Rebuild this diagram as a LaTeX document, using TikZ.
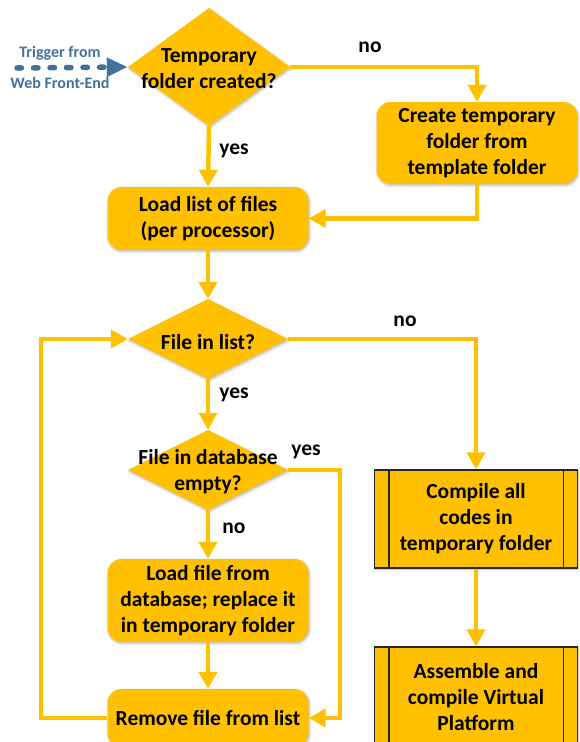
\documentclass[tikz,border=0pt]{standalone}
\usepackage{fontspec}
\setmainfont{Carlito}
\usetikzlibrary{arrows.meta,shapes.geometric,shadows.blur}
\definecolor{gold}  {HTML}{FFC000}
\definecolor{steel} {HTML}{41719C}
\newcommand{\boxfont}{\fontsize{21.5}{26}\selectfont\bfseries}
\newcommand{\trigfont}{\fontsize{16}{18}\selectfont\bfseries}

\begin{document}
\begin{tikzpicture}[x=1pt,y=-1pt,
  softshadow/.style={blur shadow={shadow xshift=1pt,shadow yshift=-1.5pt,shadow blur radius=2.5pt,shadow opacity=30}},
  box/.style={rectangle,rounded corners=14pt,fill=gold,minimum width=201pt,inner sep=0pt,align=center,font=\boxfont,softshadow},
  proc/.style={rectangle,fill=gold,draw=black!85,line width=1.2pt,minimum width=203pt,inner sep=0pt,align=center,font=\boxfont,softshadow},
  dec/.style={diamond,fill=gold,inner sep=0pt,softshadow},
  dectext/.style={align=center,font=\boxfont,inner sep=0pt},
  lbl/.style={font=\boxfont,inner sep=0pt},
  flow/.style={gold,line width=4.5pt,-{Triangle[width=18pt,length=17pt]}},
  trig/.style={steel,line width=5.5pt,dash pattern=on 4.5pt off 12pt,line cap=round,-{Triangle[width=18pt,length=21pt,line cap=butt]}}]
\useasboundingbox (0,0) rectangle (579,742);
\clip (0,0) rectangle (579,742);

% decisions
\node[dec,minimum width=162pt,minimum height=118pt] (dec1) at (209,67) {};
\node[dectext] (dec1t) at (209,69) {Temporary\\folder created?};
\node[dec,minimum width=160pt,minimum height=80pt] (dec2) at (208,339) {};
\node[dectext] (dec2t) at (208,342) {File in list?};
\node[dec,minimum width=160pt,minimum height=80pt] (dec3) at (208,470) {};
\node[dectext] (dec3t) at (208,472) {File in database\\empty?};

% process boxes
\node[box,minimum height=82pt] (create) at (477,143) {Create temporary\\folder from\\template folder};
\node[box,minimum height=63pt] (loadlist) at (208,218.5) {Load list of files\\(per processor)};
\node[box,minimum height=83pt] (loadfile) at (208,600.5) {Load file from\\database; replace it\\in temporary folder};
\node[box,minimum height=58pt] (remove) at (208,718) {Remove file from list};

% predefined processes
\node[proc,minimum height=98pt] (compile) at (476,519) {Compile all\\codes in\\temporary folder};
\draw[black!85,line width=1.2pt] ([xshift=15pt]compile.north west) -- ([xshift=15pt]compile.south west);
\draw[black!85,line width=1.2pt] ([xshift=-15pt]compile.north east) -- ([xshift=-15pt]compile.south east);
\node[proc,minimum height=100pt] (assemble) at (476,697) {Assemble and\\compile Virtual\\Platform};
\draw[black!85,line width=1.2pt] ([xshift=15pt]assemble.north west) -- ([xshift=15pt]assemble.south west);
\draw[black!85,line width=1.2pt] ([xshift=-15pt]assemble.north east) -- ([xshift=-15pt]assemble.south east);

% trigger
\coordinate (trigin) at (17,68);
\draw[trig] (trigin) -- (dec1.west);
\node[font=\trigfont,text=steel] (trigA) at (60,53) {Trigger from};
\node[font=\trigfont,text=steel] (trigB) at (60,83) {Web Front-End};

% connectors
\draw[flow] (dec1.east) -| (create.north);
\draw[flow] (create.south) |- (loadlist.east);
\draw[flow] (dec1.south) -- (loadlist.north);
\draw[flow] (loadlist.south) -- (dec2.north);
\draw[flow] (dec2.east) -| (compile.north);
\draw[flow] (dec2.south) -- (dec3.north);
\coordinate (rloop) at (340,718);
\draw[flow] (dec3.east) -| (rloop) -- (remove.east);
\draw[flow] (dec3.south) -- (loadfile.north);
\draw[flow] (loadfile.south) -- (remove.north);
\coordinate (lloop) at (41,718);
\draw[flow] (remove.west) -- (lloop) |- (dec2.west);
\draw[flow] (compile.south) -- (assemble.north);

% branch labels
\node[lbl] (no1) at (370,47) {no};
\node[lbl] (yes1) at (234,151) {yes};
\node[lbl] (no2) at (405,321) {no};
\node[lbl] (yes2) at (234,395) {yes};
\node[lbl] (yes3) at (306,452) {yes};
\node[lbl] (no3) at (234,528) {no};
\end{tikzpicture}
\end{document}
